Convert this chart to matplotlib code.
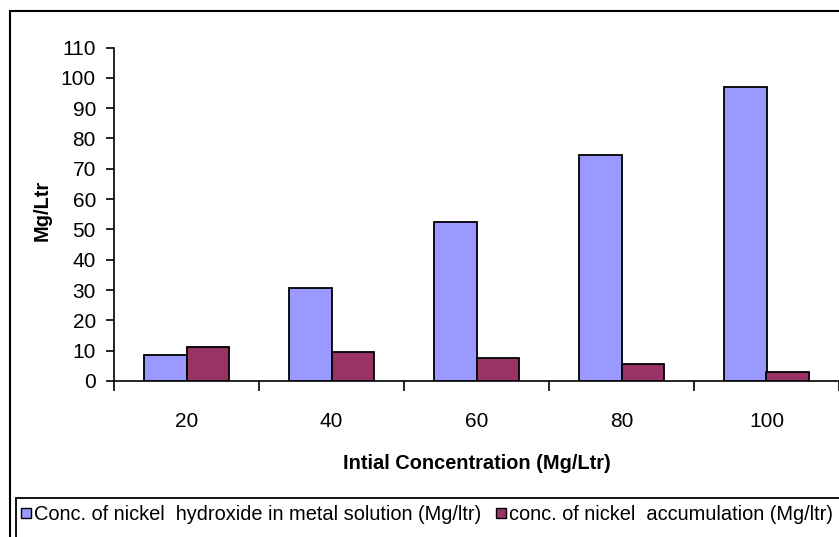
import matplotlib
matplotlib.use("Agg")
import matplotlib.pyplot as plt
from matplotlib.patches import Rectangle
from matplotlib import font_manager
import numpy as np

# ---- data ----
categories = ["20", "40", "60", "80", "100"]
series_names = ["Conc. of nickel  hydroxide in metal solution (Mg/ltr)",
                "conc. of nickel  accumulation (Mg/ltr)"]
hydroxide = [8.5, 30.7, 52.4, 74.5, 96.9]
accumulation = [11.1, 9.6, 7.5, 5.5, 3.0]
colors = ["#9999FF", "#993366"]
y_ticks = list(range(0, 111, 10))
x_label = "Intial Concentration (Mg/Ltr)"
y_label = "Mg/Ltr"

names = {f.name for f in font_manager.fontManager.ttflist}
if "Liberation Sans Narrow" in names:
    FAM = ["Liberation Sans Narrow", "DejaVu Sans"]
    FS, TFS = 17.3, 17.3
else:
    FAM = ["Liberation Sans", "DejaVu Sans"]
    FS, TFS = 14.4, 15
plt.rcParams["font.family"] = FAM

W, H = 839, 537
fig = plt.figure(figsize=(W / 100, H / 100), dpi=100)
L, R, B, T = 114, 839, 381, 47.5
ax = fig.add_axes([L / W, 1 - B / H, (R - L) / W, (B - T) / H])

x = np.arange(len(categories))
bw = 0.29
ax.bar(x - bw / 2, hydroxide, bw, color=colors[0], edgecolor="black", linewidth=1.3, zorder=3)
ax.bar(x + bw / 2, accumulation, bw, color=colors[1], edgecolor="black", linewidth=1.3, zorder=3)

ax.set_xlim(-0.5, len(categories) - 0.5)
ax.set_ylim(0, 110)
ax.set_yticks(y_ticks)
ax.tick_params(axis="y", direction="out", length=6, width=1.2, pad=7, labelsize=TFS)

# category boundaries as major ticks, labels at centers via minor ticks
ax.set_xticks(np.arange(len(categories) + 1) - 0.5)
ax.set_xticklabels([])
ax.set_xticks(x, minor=True)
ax.set_xticklabels(categories, minor=True)
ax.tick_params(axis="x", which="major", direction="out", length=7, width=1.2)
ax.tick_params(axis="x", which="minor", length=0, pad=22, labelsize=TFS)

for s in ["top", "right"]:
    ax.spines[s].set_visible(False)
for s in ["left", "bottom"]:
    ax.spines[s].set_linewidth(1.2)
ax.patch.set_alpha(0)

ax.set_xlabel(x_label, fontsize=FS, fontweight="bold", labelpad=17)
ax.set_ylabel(y_label, fontsize=FS, fontweight="bold")
ax.yaxis.set_label_coords((52 - L) / (R - L), 0.51)

# outer chart border
fig.patches.append(Rectangle((10 / W, -0.2), 1.2, 1 - 11 / H + 0.2, transform=fig.transFigure,
                             fill=False, edgecolor="black", linewidth=1.5, zorder=0))
# legend box
fig.patches.append(Rectangle((16 / W, -0.2), 1.2, 1 - 498 / H + 0.2, transform=fig.transFigure,
                             fill=False, edgecolor="black", linewidth=1.3, zorder=1))
leg_items = [(21, 34), (496, 509)]
for (sx, tx), name, c in zip(leg_items, series_names, colors):
    fig.patches.append(Rectangle((sx / W, 1 - 518 / H), 10 / W, 10 / H, transform=fig.transFigure,
                                 facecolor=c, edgecolor="black", linewidth=1.0, zorder=2))
    fig.text(tx / W, 1 - 514 / H, name, fontsize=FS, va="center", ha="left")

fig.savefig("out.png", dpi=100)
